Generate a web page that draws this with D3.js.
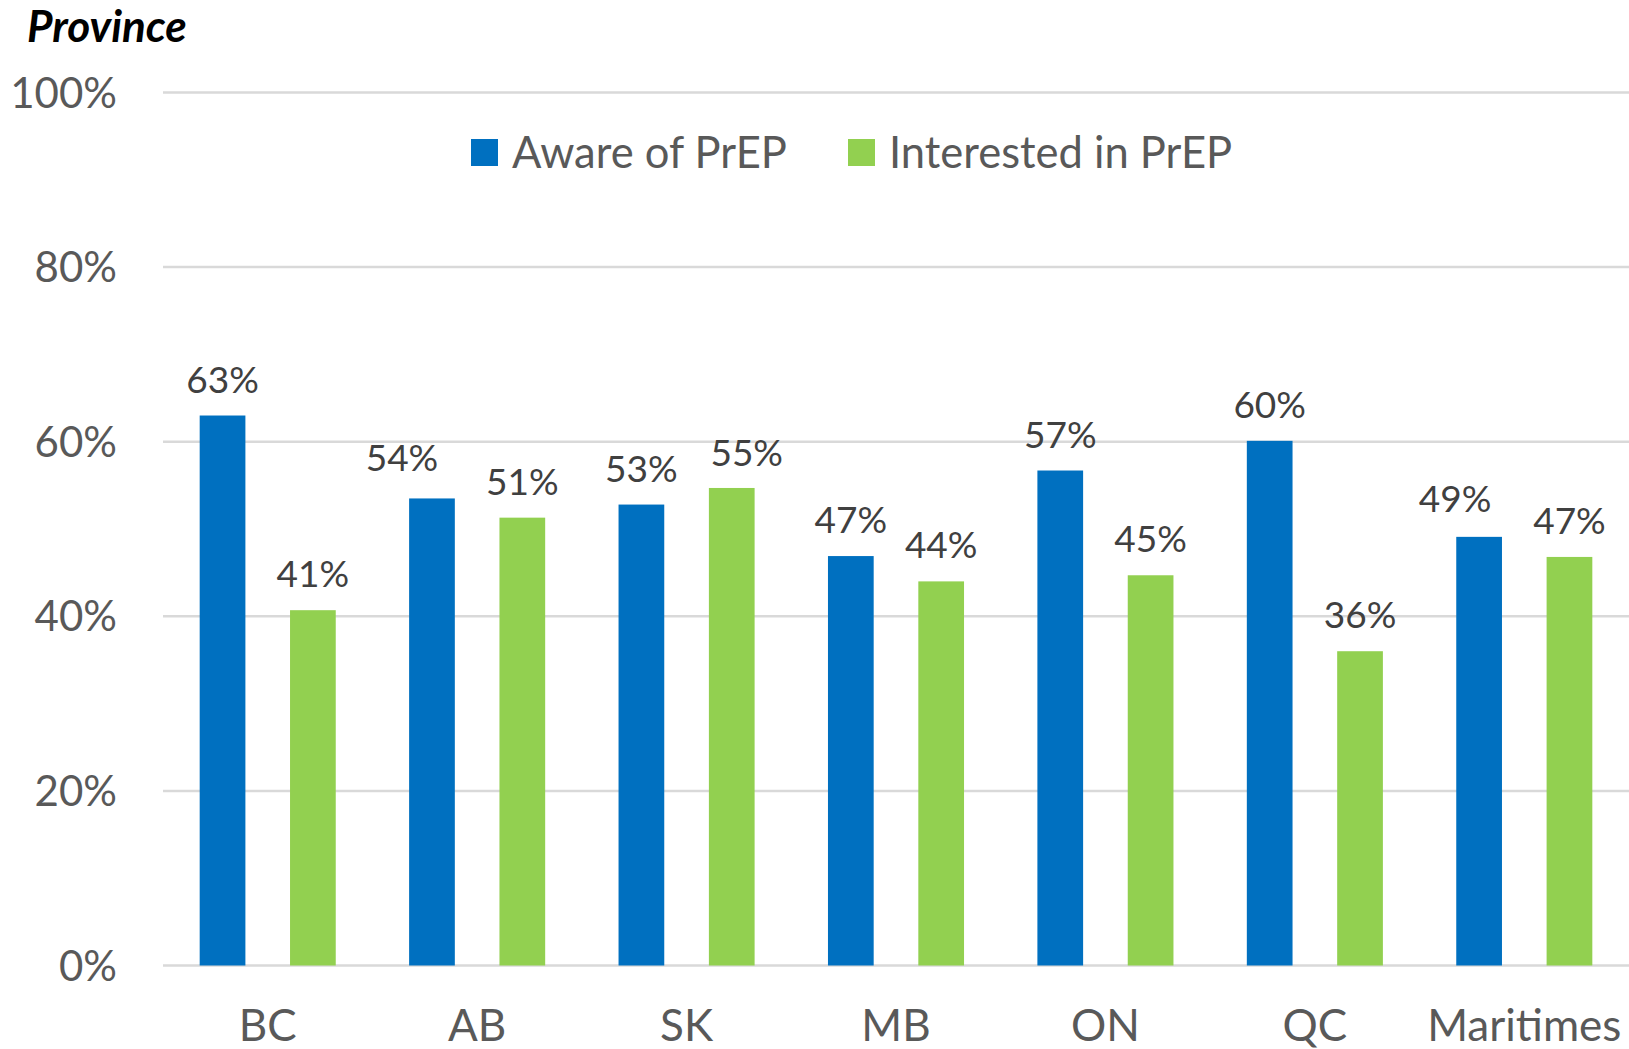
<!DOCTYPE html>
<html>
<head>
<meta charset="utf-8">
<script src="https://cdn.jsdelivr.net/npm/d3@7"></script>
<style>
  body { margin: 0; background: #fff; }
  svg { display: block; font-family: Lato, "Open Sans", sans-serif; }
</style>
</head>
<body>
<svg id="chart" width="1629" height="1049"></svg>
<script>
// data
const provinces = ['BC', 'AB', 'SK', 'MB', 'ON', 'QC', 'Maritimes'];
const series = ['Aware of PrEP', 'Interested in PrEP'];
const aware = [0.630, 0.535, 0.528, 0.469, 0.567, 0.601, 0.491];
const interested = [0.407, 0.513, 0.547, 0.440, 0.447, 0.360, 0.468];
const yTicks = [0, 0.2, 0.4, 0.6, 0.8, 1];
const colors = ['#0070C0', '#92D050'];

// labels that Excel pushed sideways to avoid overlaps (px)
const nudgeX = [[0, -30, 0, 0, 0, 0, -24], [0, 0, 15, 0, 0, 0, 0]];
const nudgeY = [[0, -4, 0, 0, 0, 0, -2], [0, 0, 1, 0, 0, 0, 0]];

const svg = d3.select('#chart');

const x0 = d3.scaleBand()
    .domain(provinces)
    .range([163, 1629]);

const x1 = d3.scaleBand()
    .domain(series)
    .range([0, x0.bandwidth()])
    .paddingInner(0.494)
    .paddingOuter(0.406);

const y = d3.scaleLinear()
    .domain([0, 1])
    .range([965.5, 92.5]);

// gridlines
svg.append('g')
    .selectAll('line')
    .data(yTicks)
    .enter()
    .append('line')
    .attr('x1', 163)
    .attr('x2', 1629)
    .attr('y1', d => y(d))
    .attr('y2', d => y(d))
    .attr('stroke', '#D9D9D9')
    .attr('stroke-width', 2.5);

// y tick labels
svg.append('g')
    .selectAll('text')
    .data(yTicks)
    .enter()
    .append('text')
    .attr('x', 117)
    .attr('y', d => y(d))
    .attr('dy', '0.36em')
    .attr('text-anchor', 'end')
    .attr('font-size', 42)
    .attr('fill', '#595959')
    .text(d => d3.format('.0%')(d));

const rows = provinces.map((p, i) => ({
    province: p,
    i: i,
    vals: [aware[i], interested[i]]
}));

const groups = svg.append('g')
    .selectAll('g')
    .data(rows)
    .enter()
    .append('g')
    .attr('transform', d => `translate(${x0(d.province)},0)`);

const cells = d => d.vals.map((v, j) => ({ key: series[j], v: v, j: j, i: d.i }));

groups.selectAll('rect')
    .data(cells)
    .enter()
    .append('rect')
    .attr('x', d => x1(d.key))
    .attr('width', x1.bandwidth())
    .attr('y', d => y(d.v))
    .attr('height', d => y(0) - y(d.v))
    .attr('fill', d => colors[d.j]);

groups.selectAll('text')
    .data(cells)
    .enter()
    .append('text')
    .attr('x', d => x1(d.key) + x1.bandwidth() / 2 + nudgeX[d.j][d.i])
    .attr('y', d => y(d.v) - 23 + nudgeY[d.j][d.i])
    .attr('text-anchor', 'middle')
    .attr('font-size', 37)
    .attr('fill', '#404040')
    .text(d => Math.round(d.v * 100) + '%');

// x labels
svg.append('g')
    .selectAll('text')
    .data(provinces)
    .enter()
    .append('text')
    .attr('x', d => x0(d) + x0.bandwidth() / 2)
    .attr('y', 1041)
    .attr('text-anchor', 'middle')
    .attr('font-size', 44)
    .attr('fill', '#595959')
    .text(d => d);

// legend
const legendX = [471, 848];
const legend = svg.append('g')
    .selectAll('g')
    .data(series)
    .enter()
    .append('g')
    .attr('transform', (d, i) => `translate(${legendX[i]},139)`);

legend.append('rect')
    .attr('width', 27)
    .attr('height', 27)
    .attr('fill', (d, i) => colors[i]);

legend.append('text')
    .attr('x', 41)
    .attr('y', 29)
    .attr('font-size', 43.5)
    .attr('fill', '#595959')
    .text(d => d);

// axis title
svg.append('text')
    .attr('x', 27)
    .attr('y', 42)
    .attr('font-size', 44)
    .attr('font-weight', 'bold')
    .attr('font-style', 'italic')
    .attr('fill', '#000')
    .text('Province');
</script>
</body>
</html>
